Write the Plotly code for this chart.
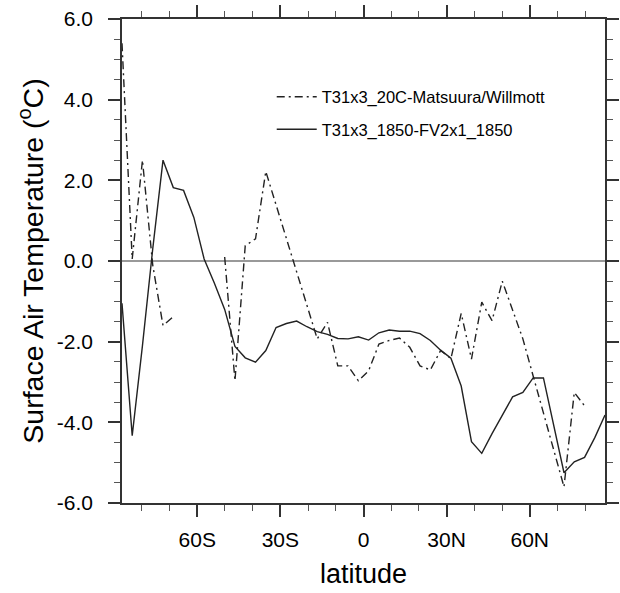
import plotly.graph_objects as go

# T31 Gaussian latitudes (south to north)
lat = [-87.16, -83.48, -79.78, -76.07, -72.36, -68.65, -64.94, -61.23, -57.52, -53.81,
       -50.10, -46.39, -42.68, -38.97, -35.26, -31.55, -27.83, -24.12, -20.41, -16.70,
       -12.99, -9.28, -5.57, -1.86, 1.86, 5.57, 9.28, 12.99, 16.70, 20.41,
       24.12, 27.83, 31.55, 35.26, 38.97, 42.68, 46.39, 50.10, 53.81, 57.52,
       61.23, 64.94, 68.65, 72.36, 76.07, 79.78, 83.48, 87.16]

# T31x3_20C minus Matsuura/Willmott (dash-dot), None = missing
obs_diff = [5.40, 0.05, 2.50, -0.10, -1.60, -1.38, None, None, None, None,
            0.10, -2.97, 0.38, 0.55, 2.22, 1.40, 0.60, -0.25, -1.10, -1.93,
            -1.52, -2.60, -2.60, -2.97, -2.72, -2.06, -1.97, -1.91, -2.14, -2.60,
            -2.70, -2.22, -2.42, -1.30, -2.43, -1.02, -1.48, -0.50, -1.23, -1.93,
            -2.85, -3.75, -4.65, -5.60, -3.26, -3.59, None, None]

# T31x3_1850 minus FV2x1_1850 (solid)
model_diff = [-1.05, -4.33, -2.10, 0.30, 2.50, 1.82, 1.75, 1.08, 0.05, -0.55,
              -1.20, -2.12, -2.40, -2.51, -2.22, -1.65, -1.55, -1.49, -1.63, -1.75,
              -1.82, -1.92, -1.93, -1.88, -1.96, -1.78, -1.71, -1.74, -1.74, -1.80,
              -1.97, -2.21, -2.41, -3.10, -4.48, -4.77, -4.28, -3.81, -3.37, -3.26,
              -2.90, -2.90, -4.05, -5.25, -4.98, -4.87, -4.38, -3.82]

series_names = ["T31x3_20C-Matsuura/Willmott", "T31x3_1850-FV2x1_1850"]

x_tick_vals = [-60, -30, 0, 30, 60]
x_tick_text = ["60S", "30S", "0", "30N", "60N"]
x_minor_vals = [-80, -70, -50, -40, -20, -10, 10, 20, 40, 50, 70, 80]

y_tick_vals = [-6, -4, -2, 0, 2, 4, 6]
y_tick_text = ["-6.0", "-4.0", "-2.0", "0.0", "2.0", "4.0", "6.0"]

FONT = "Liberation Sans, Arial, Helvetica, sans-serif"

fig = go.Figure()
fig.add_trace(go.Scatter(
    x=lat, y=obs_diff, mode="lines", name=series_names[0],
    line=dict(color="#222222", width=1.4, dash="8px,4px,2px,4px"),
    connectgaps=False, legendgroup="a"))
fig.add_trace(go.Scatter(
    x=lat, y=model_diff, mode="lines", name=series_names[1],
    line=dict(color="#222222", width=1.4),
    legendgroup="b"))

axis_common = dict(
    showline=True, linecolor="#333333", linewidth=1.5, mirror="ticks",
    ticks="outside", ticklen=12, tickwidth=1.5, tickcolor="#333333",
    showgrid=False, tickfont=dict(family=FONT, size=21, color="black"),
)

fig.update_xaxes(
    range=[-87.16, 87.16], tickmode="array", tickvals=x_tick_vals, ticktext=x_tick_text,
    minor=dict(tickmode="array", tickvals=x_minor_vals, ticks="outside", ticklen=6,
               tickwidth=1.2, tickcolor="#555555"),
    zeroline=False, ticklabelstandoff=5,
    title=dict(text="latitude", font=dict(family=FONT, size=27, color="black"), standoff=14),
    **axis_common)

fig.update_yaxes(
    range=[-6, 6], tickmode="array", tickvals=y_tick_vals, ticktext=y_tick_text,
    minor=dict(tickmode="linear", tick0=0, dtick=0.5, ticks="outside", ticklen=6,
               tickwidth=1.2, tickcolor="#555555"),
    zeroline=True, zerolinecolor="#999999", zerolinewidth=1.5, ticklabelstandoff=11,
    title=dict(text="Surface Air Temperature (<sup>o</sup>C)",
               font=dict(family=FONT, size=28.5, color="black"), standoff=5),
    **axis_common)

fig.update_layout(
    width=620, height=593,
    margin=dict(l=122, r=15, t=19, b=90, autoexpand=False),
    plot_bgcolor="white", paper_bgcolor="white",
    font=dict(family=FONT, color="black"),
    showlegend=True,
    legend=dict(x=0.31, y=0.875, xanchor="left", yanchor="top",
                bgcolor="rgba(0,0,0,0)", borderwidth=0,
                font=dict(family=FONT, size=16.5, color="black"),
                traceorder="grouped", tracegroupgap=8, itemwidth=40),
)

fig.write_html("out.html")
